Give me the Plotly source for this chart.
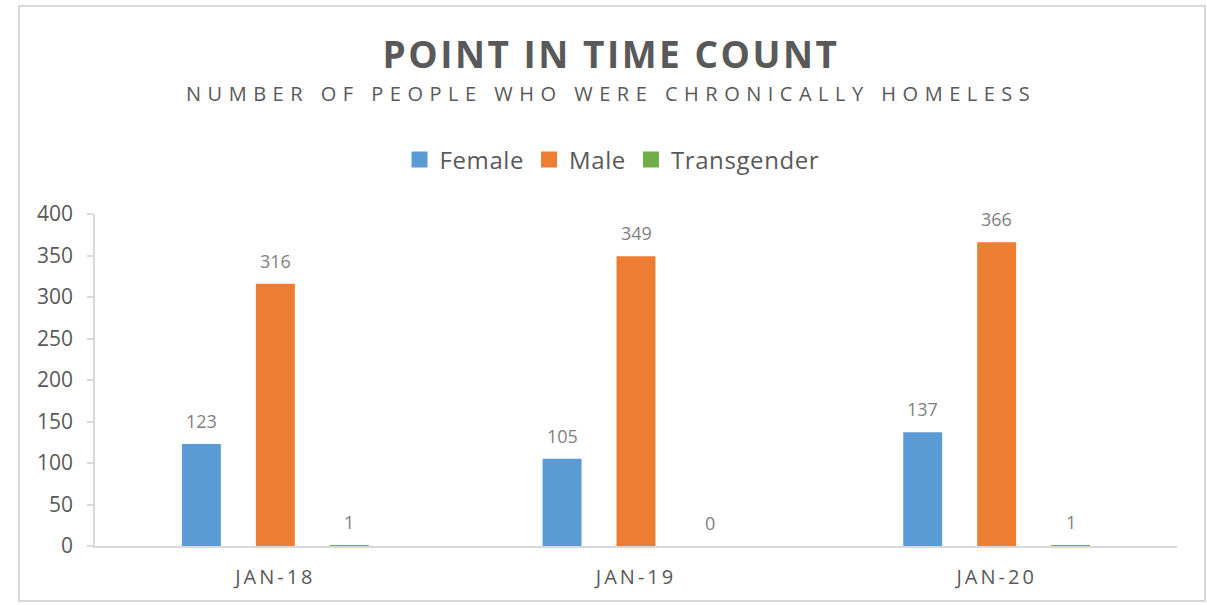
import plotly.graph_objects as go

# ---- data ----
categories = ["Jan-18", "Jan-19", "Jan-20"]
tick_labels = ["JAN-18", "JAN-19", "JAN-20"]
series_names = ["Female", "Male", "Transgender"]
female = [123, 105, 137]
male = [316, 349, 366]
transgender = [1, 0, 1]
y_ticks = [0, 50, 100, 150, 200, 250, 300, 350, 400]

title_text = "POINT IN TIME COUNT"
subtitle_text = "NUMBER OF PEOPLE WHO WERE CHRONICALLY HOMELESS"

# ---- style ----
FONT = "Open Sans"
colors = ["#5B9BD5", "#ED7D31", "#70AD47"]
label_shift = [-74, 0, 74]
TEXT = "#595959"
LABEL = "#7F7F7F"
AXIS = "#D9D9D9"

W, H = 1207, 605
ml, mr, mt, mb = 95, 30, 214, 59
pw, ph = W - ml - mr, H - mt - mb


def px_x(x):
    return (x - ml) / pw


def px_y(y):
    return (H - mb - y) / ph


fig = go.Figure()
values = [female, male, transgender]
for name, vals, col in zip(series_names, values, colors):
    fig.add_trace(go.Bar(x=categories, y=vals, name=name, marker=dict(color=col, line=dict(width=0)),
                         showlegend=False, hoverinfo="x+y+name"))
# legend entries with larger square swatches
for name, col in zip(series_names, colors):
    fig.add_trace(go.Scatter(x=[None], y=[None], mode="markers",
                             name=f'<span style="letter-spacing:0.6px">{name}</span>',
                             marker=dict(symbol="square", size=16, color=col), showlegend=True))

annotations = []
for vals, dx in zip(values, label_shift):
    for c, v in zip(categories, vals):
        annotations.append(dict(x=c, y=v, xref="x", yref="y", text=str(v), showarrow=False,
                                xshift=dx, yshift=23, yanchor="middle",
                                font=dict(family=FONT, size=18, color=LABEL)))

annotations.append(dict(x=px_x((188 + 1034) / 2), y=px_y(94), xref="paper", yref="paper",
                        xanchor="center", yanchor="middle",
                        text=f'<span style="letter-spacing:6.5px">{subtitle_text}</span>', showarrow=False,
                        font=dict(family=FONT, size=20, color=TEXT)))

fig.update_layout(
    width=W, height=H,
    margin=dict(l=ml, r=mr, t=mt, b=mb),
    paper_bgcolor="white", plot_bgcolor="white",
    font=dict(family=FONT, color=TEXT),
    title=dict(text=f'<b><span style="letter-spacing:2.5px">{title_text}</span></b>',
               x=(385 + 837) / 2 / W, xanchor="center", xref="container",
               y=1 - 55 / H, yanchor="middle", yref="container",
               font=dict(family=FONT, size=37, color=TEXT)),
    barmode="group", bargap=0.385, bargroupgap=0.473,
    showlegend=True,
    legend=dict(orientation="h", x=px_x(612), xanchor="center", y=px_y(160), yanchor="middle",
                font=dict(family=FONT, size=24, color=TEXT), itemclick=False, bgcolor="rgba(0,0,0,0)"),
    annotations=annotations,
    shapes=[dict(type="rect", xref="paper", yref="paper",
                 x0=px_x(19), x1=px_x(1205), y0=px_y(601), y1=px_y(6),
                 line=dict(color=AXIS, width=2), layer="below")],
)
fig.update_xaxes(type="category", showline=True, linecolor=AXIS, linewidth=1.5, showgrid=False,
                 ticks="", tickvals=categories,
                 ticktext=[f'<span style="letter-spacing:3px">{t}</span>' for t in tick_labels],
                 tickfont=dict(family=FONT, size=20, color=TEXT), ticklabelstandoff=12, zeroline=False)
fig.update_yaxes(range=[0, 400], tickvals=y_ticks, showline=True, linecolor=AXIS, linewidth=1.5,
                 showgrid=False, zeroline=False, ticks="outside", ticklen=6, tickcolor=AXIS, tickwidth=1.5,
                 tickfont=dict(family=FONT, size=21, color=TEXT), ticklabelstandoff=10)

fig.write_html("out.html", config={"displayModeBar": False},
               post_script="document.body.style.margin='0';")
